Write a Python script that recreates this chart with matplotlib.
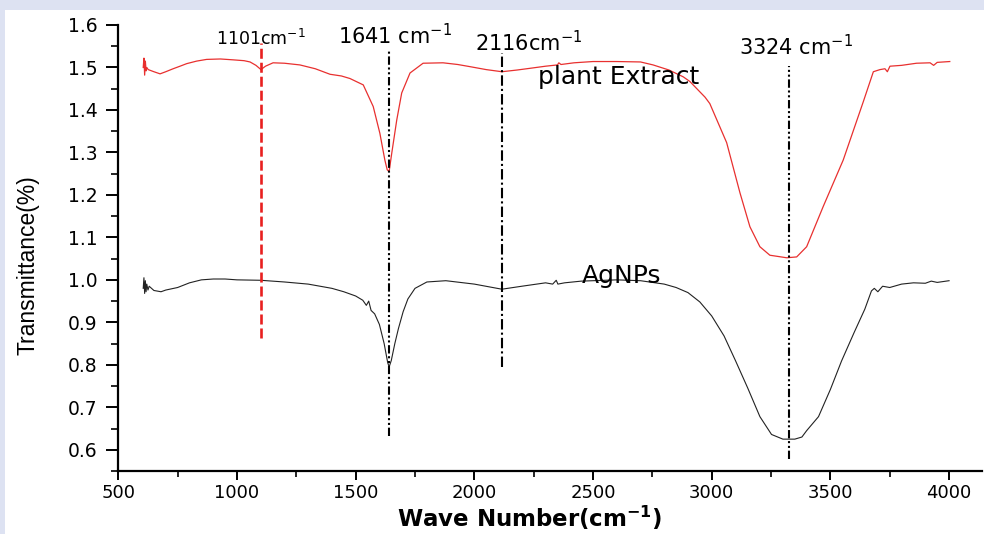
import matplotlib
matplotlib.use("Agg")
import matplotlib.pyplot as plt
from matplotlib.patches import Rectangle
from matplotlib.ticker import MultipleLocator

plt.rcParams['font.family'] = ['DejaVu Sans']
plt.rcParams['mathtext.fontset'] = 'dejavusans'

# ---- data ----
plant_wn = [605, 608, 611, 614, 617, 620, 626, 650, 676, 700, 731, 760, 788, 830, 872, 930, 983, 1030,
            1055, 1080, 1101, 1120, 1152, 1200, 1265, 1330, 1392, 1440, 1476, 1532, 1574, 1602, 1623,
            1633, 1641, 1652, 1673, 1694, 1729, 1784, 1868, 1930, 1981, 2050, 2116, 2180, 2234, 2300,
            2350, 2356, 2365, 2420, 2500, 2600, 2700, 2753, 2820, 2880, 2908, 2972, 2992, 3063, 3119,
            3161, 3203, 3245, 3316, 3358, 3400, 3470, 3554, 3639, 3681, 3709, 3730, 3740, 3751, 3800,
            3863, 3920, 3935, 3950, 4003]
plant_T = [1.500, 1.522, 1.482, 1.515, 1.492, 1.500, 1.495, 1.490, 1.485, 1.490, 1.497, 1.503, 1.509,
           1.515, 1.519, 1.520, 1.518, 1.516, 1.513, 1.505, 1.495, 1.503, 1.511, 1.510, 1.506, 1.497,
           1.484, 1.480, 1.474, 1.459, 1.408, 1.345, 1.282, 1.259, 1.255, 1.298, 1.376, 1.440, 1.487,
           1.510, 1.511, 1.507, 1.502, 1.495, 1.490, 1.494, 1.498, 1.503, 1.506, 1.511, 1.507, 1.511,
           1.514, 1.514, 1.513, 1.506, 1.494, 1.478, 1.467, 1.430, 1.415, 1.323, 1.205, 1.125, 1.078,
           1.058, 1.052, 1.054, 1.078, 1.173, 1.282, 1.420, 1.490, 1.495, 1.497, 1.490, 1.503, 1.505,
           1.510, 1.511, 1.505, 1.512, 1.514]

ag_wn = [605, 608, 611, 614, 617, 620, 625, 630, 650, 680, 700, 750, 800, 850, 900, 950, 1000, 1100,
         1200, 1300, 1400, 1450, 1500, 1530, 1545, 1555, 1565, 1580, 1600, 1620, 1635, 1641, 1650,
         1665, 1680, 1700, 1720, 1750, 1800, 1880, 2000, 2116, 2200, 2300, 2330, 2345, 2352, 2380,
         2450, 2600, 2700, 2800, 2850, 2900, 2950, 3000, 3052, 3100, 3152, 3203, 3252, 3300, 3350,
         3380, 3400, 3450, 3500, 3547, 3600, 3645, 3673, 3685, 3700, 3720, 3750, 3800, 3850, 3900,
         3925, 3950, 4000]
ag_T = [0.980, 1.005, 0.968, 0.998, 0.972, 0.990, 0.976, 0.985, 0.975, 0.972, 0.976, 0.982, 0.993,
        1.000, 1.002, 1.002, 1.000, 0.999, 0.995, 0.990, 0.980, 0.972, 0.962, 0.952, 0.940, 0.950,
        0.928, 0.920, 0.895, 0.850, 0.805, 0.795, 0.810, 0.850, 0.885, 0.925, 0.955, 0.980, 0.995,
        0.998, 0.990, 0.978, 0.985, 0.993, 0.990, 0.999, 0.990, 0.993, 0.997, 1.000, 0.998, 0.990,
        0.982, 0.970, 0.948, 0.915, 0.868, 0.810, 0.745, 0.678, 0.636, 0.625, 0.625, 0.630, 0.645,
        0.678, 0.742, 0.809, 0.876, 0.931, 0.974, 0.980, 0.972, 0.985, 0.982, 0.990, 0.993, 0.992,
        0.997, 0.994, 0.998]

peak_wn = [1101, 1641, 2116, 3324]
peak_lo = [0.862, 0.633, 0.794, 0.578]
peak_hi = [1.557, 1.541, 1.534, 1.503]
peak_labels = ['1101cm$^{-1}$', '1641 cm$^{-1}$', '2116cm$^{-1}$', '3324 cm$^{-1}$']

xticks = [500, 1000, 1500, 2000, 2500, 3000, 3500, 4000]
yticks = [0.6, 0.7, 0.8, 0.9, 1.0, 1.1, 1.2, 1.3, 1.4, 1.5, 1.6]

# ---- figure ----
fig = plt.figure(figsize=(9.84, 5.34), dpi=100)
fig.patch.set_facecolor('#dde2f2')
bg = Rectangle((5 / 984, 0), 1, 1 - 10 / 534, transform=fig.transFigure,
               facecolor='white', edgecolor='none', zorder=-10)
fig.patches.append(bg)

ax = fig.add_axes([118.3 / 984, 1 - 471 / 534, 864 / 984, 446 / 534])
ax.set_zorder(1)
ax.set_facecolor('none')

ax.plot(plant_wn, plant_T, color='#e8302f', lw=0.9)
ax.plot(ag_wn, ag_T, color='#222222', lw=0.8)

styles = [dict(color='#e8201f', lw=1.9, ls=(0, (3.8, 1.5))),
          dict(color='black', lw=1.5, ls=(0, (4, 1.3, 1, 1.3, 1, 1.3))),
          dict(color='black', lw=1.5, ls=(0, (5, 1.5, 1, 1.5))),
          dict(color='black', lw=1.5, ls=(0, (4, 1.3, 1, 1.3, 1, 1.3)))]
for w, lo, hi, st in zip(peak_wn, peak_lo, peak_hi, styles):
    ax.plot([w, w], [lo, hi], **st)

# peak labels (positions in data coords)
ax.text(1099, 1.567, peak_labels[0], ha='center', va='center', fontsize=12.5)
ax.text(1665, 1.576, peak_labels[1], ha='center', va='center', fontsize=15)
ax.text(2230, 1.558, peak_labels[2], ha='center', va='center', fontsize=15)
ax.text(3357, 1.548, peak_labels[3], ha='center', va='center', fontsize=15)
ax.text(2607, 1.478, 'plant Extract', ha='center', va='center', fontsize=18)
ax.text(2620, 1.009, 'AgNPs', ha='center', va='center', fontsize=18)

ax.set_xlim(500, 4140)
ax.set_ylim(0.55, 1.6)
ax.set_xticks(xticks)
ax.set_yticks(yticks)
ax.set_yticklabels([f'{v:.1f}' for v in yticks])
ax.xaxis.set_minor_locator(MultipleLocator(250))
ax.yaxis.set_minor_locator(MultipleLocator(0.05))

for s in ['top', 'right']:
    ax.spines[s].set_visible(False)
for s in ['left', 'bottom']:
    ax.spines[s].set_linewidth(1.6)

ax.tick_params(axis='y', which='major', length=9, width=1.4, labelsize=13.5, pad=6)
ax.tick_params(axis='y', which='minor', length=5, width=1.2)
ax.tick_params(axis='x', which='major', length=6.5, width=1.4, labelsize=13, pad=3)
ax.tick_params(axis='x', which='minor', length=4, width=1.2)

fig.text(28 / 984, 1 - 265 / 534, 'Transmittance(%)', rotation=90, ha='center', va='center',
         fontsize=16.5, family='Liberation Sans')
fig.text(530 / 984, 1 - 527 / 534, r'Wave Number(cm$^{\mathbf{-1}}$)', ha='center', va='baseline',
         fontsize=16.5, fontweight='bold')

fig.savefig('out.png', dpi=100, facecolor=fig.get_facecolor())
